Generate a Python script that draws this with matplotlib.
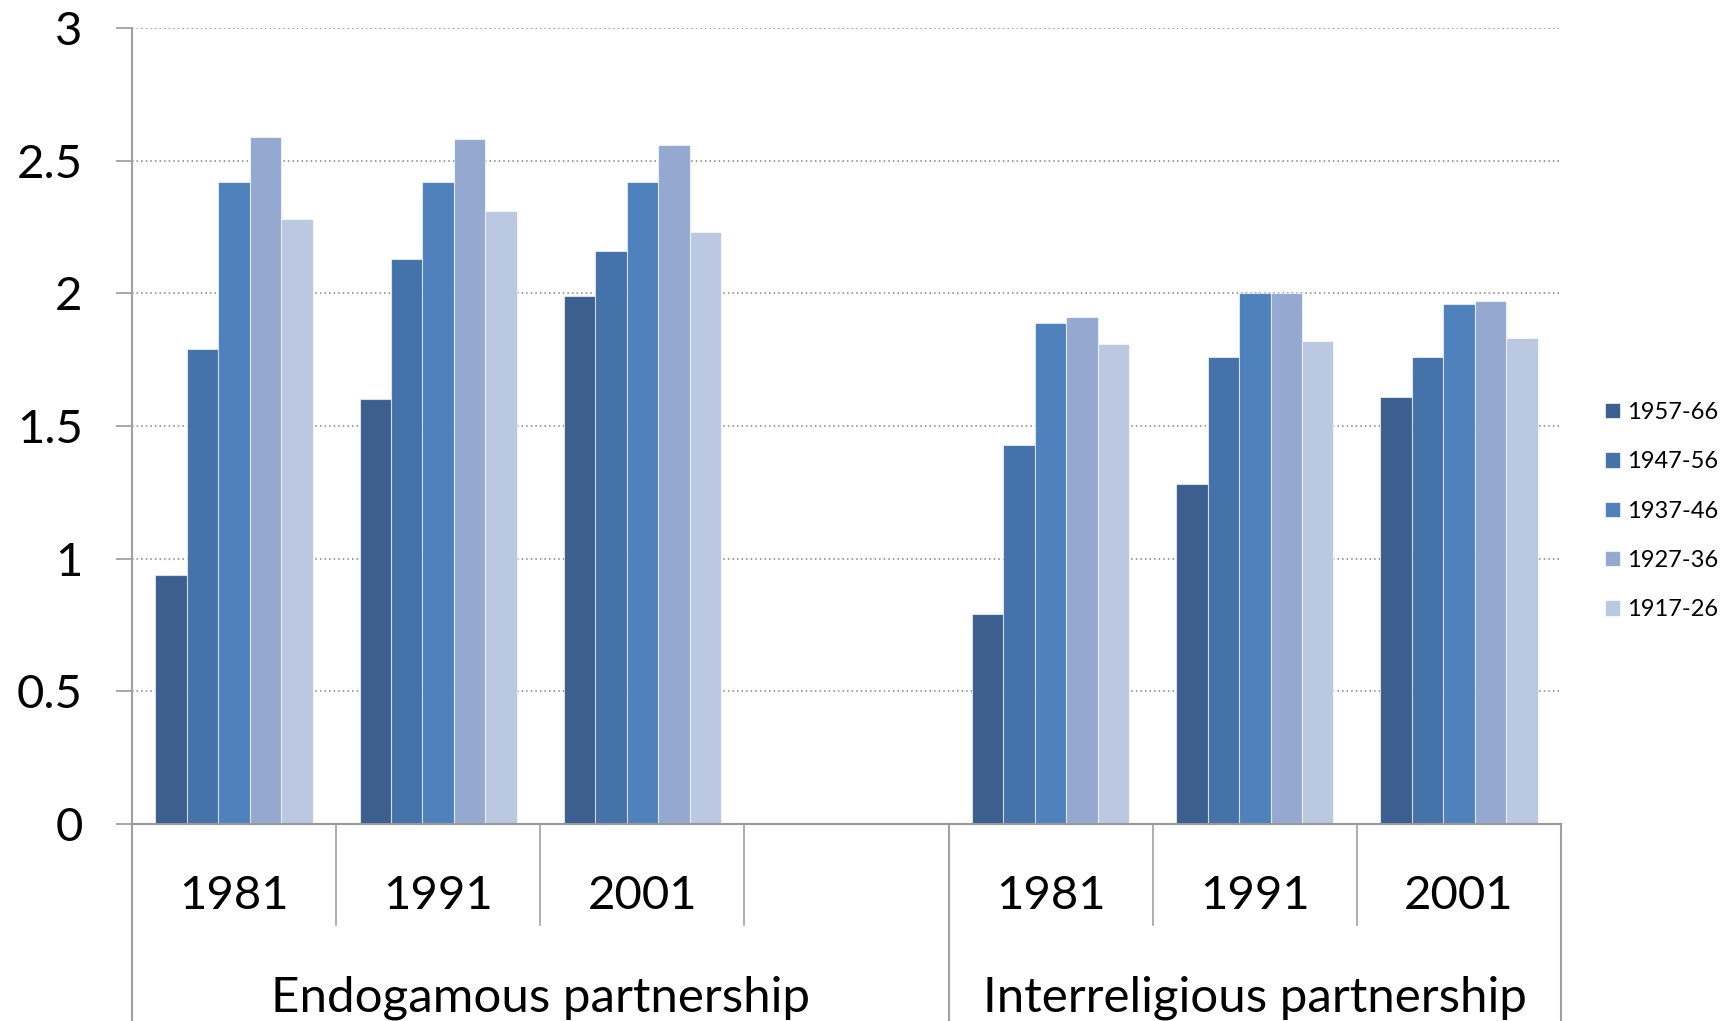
import numpy as np
from matplotlib import pyplot as plt

# data
groups = ["Endogamous partnership", "Interreligious partnership"]
years = ["1981", "1991", "2001"]
cohorts = ["1957-66", "1947-56", "1937-46", "1927-36", "1917-26"]

# values per cohort: endogamous 1981, 1991, 2001, interreligious 1981, 1991, 2001
v_1957_66 = [0.94, 1.60, 1.99, 0.79, 1.28, 1.61]
v_1947_56 = [1.79, 2.13, 2.16, 1.43, 1.76, 1.76]
v_1937_46 = [2.42, 2.42, 2.42, 1.89, 2.00, 1.96]
v_1927_36 = [2.59, 2.58, 2.56, 1.91, 2.00, 1.97]
v_1917_26 = [2.28, 2.31, 2.23, 1.81, 1.82, 1.83]
series = [v_1957_66, v_1947_56, v_1937_46, v_1927_36, v_1917_26]

colors = ["#3c5f8f", "#4572a8", "#4f81bd", "#95a9d0", "#bbc8e1"]

plt.rcParams['font.family'] = ['Lato', 'DejaVu Sans']

W, H = 1733, 1021
fig = plt.figure(figsize=(W / 100, H / 100), dpi=100)
ax = fig.add_axes([132 / W, (H - 824) / H, (1561 - 132) / W, (824 - 28) / H])

# slots: 3 years, one empty slot, 3 years
slots = [0, 1, 2, 4, 5, 6]
centers = np.array(slots) + 0.5
bw = 0.154

for i, (vals, col, lab) in enumerate(zip(series, colors, cohorts)):
    ax.bar(centers + (i - 2) * bw, vals, width=bw, color=col, label=lab,
           edgecolor=(1, 1, 1, 0.6), linewidth=0.8, zorder=3)

ax.set_xlim(0, 7)
ax.set_ylim(0, 3)
ax.set_yticks(np.arange(0, 3.01, 0.5))
ax.set_yticklabels(["0", "0.5", "1", "1.5", "2", "2.5", "3"])
ax.set_xticks([])
ax.tick_params(axis='y', length=11.5, width=1.2, color='#999999', pad=24, labelsize=34)
ax.yaxis.grid(True, linestyle=(0, (1, 2)), color='#808080', linewidth=1.1, zorder=0)
for s in ['top', 'right', 'left']:
    ax.spines[s].set_visible(False)
ax.spines['bottom'].set_color('#999999')
ax.spines['bottom'].set_linewidth(1.5)
ax.spines['bottom'].set_zorder(4)

trans = ax.get_xaxis_transform()
# value axis line, then category separators below the axis
ax.plot([0, 0], [1, -0.26], transform=trans, color='#a0a0a0', lw=1.5, clip_on=False)
for x in [4, 7]:
    ax.plot([x, x], [0, -0.26], transform=trans, color='#a0a0a0', lw=1.5, clip_on=False)
for x in [1, 2, 3, 5, 6]:
    ax.plot([x, x], [0, -0.127], transform=trans, color='#a0a0a0', lw=1.2, clip_on=False)

for k, c in enumerate(centers):
    ax.text(c, -0.091, years[k % 3], transform=trans, ha='center', va='center', fontsize=34)
ax.text(2.0, -0.235, groups[0], transform=trans, ha='center', va='baseline', fontsize=35.5)
ax.text(5.5, -0.235, groups[1], transform=trans, ha='center', va='baseline', fontsize=35.5)

fig.legend(loc='center left', bbox_to_anchor=(1605 / W, 1 - 511 / H), frameon=False,
           fontsize=17, handlelength=0.62, handleheight=0.62, handletextpad=0.3,
           labelspacing=1.2, borderaxespad=0, borderpad=0)

plt.savefig("out.png", dpi=100)
